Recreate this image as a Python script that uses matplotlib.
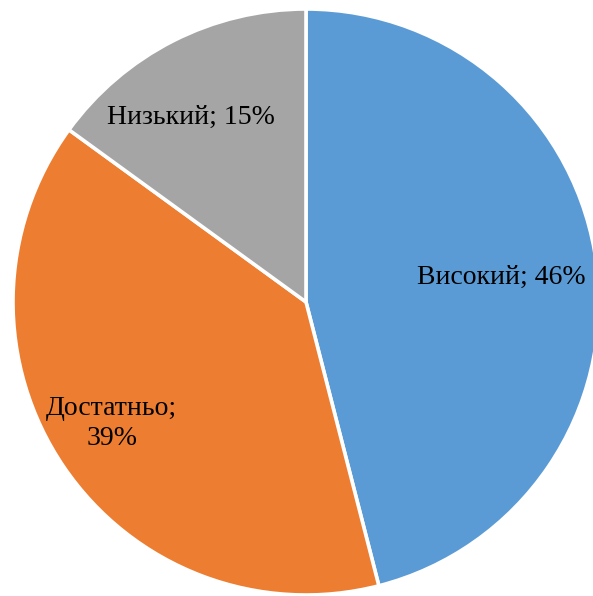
import matplotlib.pyplot as plt
import numpy as np

plt.rcParams['font.family'] = ['Liberation Serif', 'DejaVu Serif']

levels = ['Високий', 'Достатньо', 'Низький']
shares = [46, 39, 15]
colors = ['#5B9BD5', '#ED7D31', '#A5A5A5']

# label placement: distance from centre and angular nudge from the wedge middle
label_dist = [0.673, 0.782, 0.742]
label_nudge = [0.0, -2.2, 4.8]

fig = plt.figure(figsize=(5.93, 5.96), dpi=100)
ax = fig.add_axes([0, 0, 1, 1])

wedges, _ = ax.pie(shares, colors=colors, startangle=90, counterclock=False,
                   wedgeprops=dict(edgecolor='white', linewidth=2.6))

for w, name, val, d, nudge in zip(wedges, levels, shares, label_dist, label_nudge):
    mid = np.deg2rad((w.theta1 + w.theta2) / 2 + nudge)
    if name == 'Достатньо':
        txt = f'{name};\n{val}%'
    else:
        txt = f'{name}; {val}%'
    ax.text(d * np.cos(mid), d * np.sin(mid), txt, ha='center', va='center',
            fontsize=20, linespacing=1.3)

# the pie is a bit wider than the canvas on the right
r_px = 293
ax.set_xlim(-306 / r_px, 287 / r_px)
ax.set_ylim(-294 / r_px, 302 / r_px)
ax.axis('off')

fig.savefig('out.png', dpi=100)
